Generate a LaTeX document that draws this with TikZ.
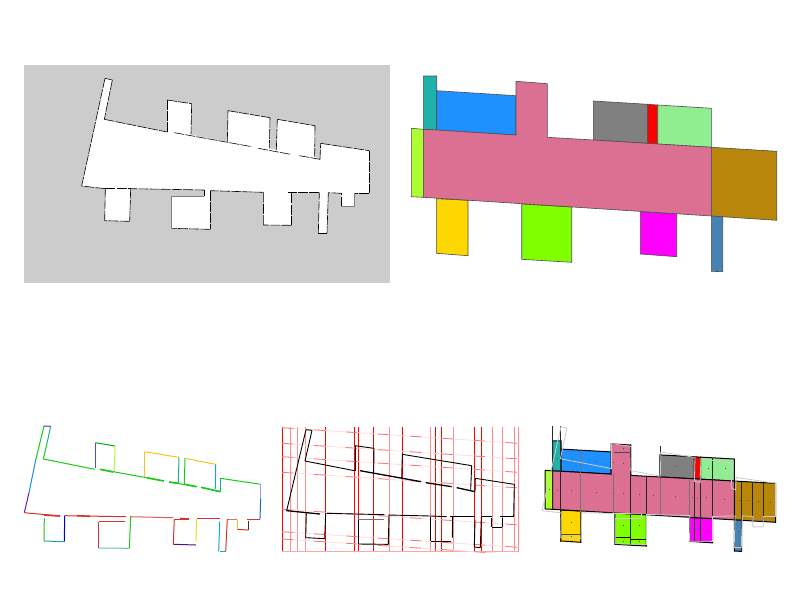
\documentclass[tikz,border=0pt]{standalone}
\definecolor{blockteal}{RGB}{32,178,170}
\definecolor{blockblue}{RGB}{30,144,255}
\definecolor{blockpink}{RGB}{219,112,147}
\definecolor{blocklime}{RGB}{173,255,47}
\definecolor{blockgray}{RGB}{128,128,128}
\definecolor{blockred}{RGB}{255,0,0}
\definecolor{blockmint}{RGB}{144,238,144}
\definecolor{blockgold}{RGB}{184,134,11}
\definecolor{blocksteel}{RGB}{70,130,180}
\definecolor{blockyellow}{RGB}{255,215,0}
\definecolor{blockchart}{RGB}{127,255,0}
\definecolor{blockmagenta}{RGB}{255,0,255}
\definecolor{edgepurple}{RGB}{100,30,170}
\definecolor{edgeblue}{RGB}{30,140,225}
\definecolor{edgegreen}{RGB}{20,205,20}
\definecolor{edgeteal}{RGB}{30,170,150}
\definecolor{edgeorange}{RGB}{250,195,30}
\definecolor{edgered}{RGB}{215,50,50}
\definecolor{edgecyan}{RGB}{20,165,205}
\tikzset{
    planedge/.style={draw=black,line width=.6pt,dash pattern=on 10pt off 1.2pt},
    blockedge/.style={draw=black!70,line width=.6pt},
    blockcut/.style={draw=black,line width=1pt},
    griddark/.style={draw=black!85,line width=1pt},
    gridfaint/.style={draw=black!55,line width=.7pt}
}
% outline of the plan, in the coordinates of the top left panel
\newcommand{\planoutline}{(105,78.3) -- (112.3,80) -- (104.3,119.3) -- (167,132) -- (167,100) -- (191.7,103.7) -- (191,134.7) -- (227.3,141.7) -- (228,110.7) -- (270,117.7) -- (269.3,148.3) -- (276.3,150) -- (277.3,119.3) -- (315,125.7) -- (314.7,156.7) -- (320,159.3) -- (320.7,143.3) -- (369.3,150.7) -- (369.3,193.3) -- (354,193.3) -- (354,206.7) -- (341.3,206.7) -- (341.3,193.3) -- (328.3,192.7) -- (327,233.3) -- (318.3,233.3) -- (319.3,192.7) -- (291.7,193.3) -- (291.7,225.3) -- (263.3,225) -- (263.7,192.3) -- (210.3,190.7) -- (210.3,229.3) -- (171.7,228.3) -- (171.7,196) -- (204.3,196) -- (204.3,190) -- (130.7,188.7) -- (129.7,221.3) -- (104.7,220.7) -- (105.3,188.7) -- (81.7,186) -- cycle}
% coloured blocks, in the coordinates of the top right panel
\newcommand{\drawblocks}[1]{
    \foreach \c/\p in {
        blockteal/{(423.3,76) -- (436.7,76) -- (436.7,130) -- (423.3,129.3)},
        blockblue/{(436.7,90.7) -- (516,95.7) -- (516,135) -- (436.7,130)},
        blocklime/{(411.3,128.3) -- (423.3,129.3) -- (423.3,197.3) -- (411.3,196.7)},
        blockgray/{(593.3,101) -- (647.7,104.3) -- (647.7,143.3) -- (593.3,140)},
        blockred/{(647.7,104.3) -- (657.7,105) -- (657.7,144) -- (647.7,143.3)},
        blockmint/{(657.7,105) -- (711.3,108.3) -- (711.3,147.3) -- (657.7,144)},
        blockgold/{(711.3,147.3) -- (776.7,151.3) -- (776.7,220.3) -- (711.3,216)},
        blocksteel/{(711.3,216) -- (722.7,216.7) -- (722.7,271.7) -- (711.3,271.3)},
        blockyellow/{(436.3,198.7) -- (468,200.3) -- (468,255.7) -- (436.3,253.3)},
        blockchart/{(521.7,204) -- (571.7,207) -- (571.7,262.3) -- (521.7,259.3)},
        blockmagenta/{(640.3,211.7) -- (676.7,213.7) -- (676.7,256.7) -- (640.3,254)},
        blockpink/{(423.3,129.3) -- (436.7,130) -- (516,135) -- (516,81.3) -- (547.3,83.7) -- (547.3,137.3) -- (593.3,140) -- (711.3,147.3) -- (711.3,216) -- (423.3,197.3)}}
        \filldraw[fill=\c,#1] \p -- cycle;
}
\begin{document}
\begin{tikzpicture}[x=1pt,y=-1pt]
    \useasboundingbox (0,0) rectangle (800,600);
    % top left: white plan on gray
    \fill[black!20] (24,65) rectangle (390,283);
    \fill[white] \planoutline;
    \begin{scope}[shift={(20,60)},scale=1/3]
        \foreach \xa/\ya/\xb/\yb in {255/55/277/60,277/60/253/178,255/55/185/378,253/178/441/216,441/216/441/120,
            441/120/515/131,515/131/513/222,463/218/695/260,622/245/624/152,624/152/750/173,750/173/748/265,
            715/265/812/283,769/270/772/178,772/178/885/197,885/197/884/290,838/287/900/298,900/298/902/250,
            902/250/1048/272,1048/272/1048/400,1048/400/1002/400,964/440/964/400,964/400/925/398,925/398/921/520,
            921/520/895/520,895/520/898/398,898/398/805/398,815/400/815/496,815/496/730/495,730/495/731/397,
            731/397/571/392,571/392/571/508,571/508/455/505,553/408/553/390,553/390/332/386,332/386/329/484,
            329/484/254/482,254/482/256/386,256/386/332/386,256/386/185/378}
            \draw[planedge] (\xa,\ya) -- (\xb,\yb);
        \draw[black!50,line width=.6pt] (1002,400) -- (1002,440) -- (964,440) (455,505) -- (455,408) -- (553,408);
    \end{scope}
    % top right: blocks
    \drawblocks{blockedge}
    % bottom left: edges by direction
    \foreach \xa/\ya/\xb/\yb/\c in {
        24.3/512.7/29/492.7/edgepurple, 29/492.7/35.7/460/edgeblue, 35.7/460/44/426/edgegreen,
        44/426/50.7/426.3/edgepurple, 50.7/426.3/47/443.3/edgeteal, 47/443.3/43.3/459/edgegreen,
        43.3/459/95/469.3/edgegreen, 95.3/468.3/95.3/442.7/blue!70!white, 95.3/442.7/115/446/edgegreen!80!black,
        115/446/114.3/472.3/blocklime, 100/469.3/144.3/477.3/edgegreen, 144.3/477.3/144.3/451.7/edgeorange,
        144.3/451.7/179/457.3/edgeorange, 179/457.3/178.3/483.3/edgeteal, 144.3/477.3/163.7/481/edgegreen,
        169/482/196.7/486.7/edgegreen, 185/458.3/184.3/484/edgegreen, 185/458.3/215.7/464.3/edgeorange,
        215.7/464.3/215.3/489/edgecyan, 201/487.3/220.3/491.7/edgegreen, 220.3/491.7/220.3/478.3/edgeteal,
        220.3/478.3/260.7/484.3/edgegreen, 260.7/484.3/260.7/498.3/blue!40!white, 260.7/498.3/260/519/edgeblue!80!black,
        260/519/246.7/519/edgered, 248.3/521/248.3/530/black!80, 248.3/530/237.3/529.3/edgered,
        237.3/529.3/237.3/520/edgeorange, 237.3/519/227.3/519/edgered!70!white, 227.3/519/225.7/551.3/edgered,
        225.7/551.3/220/551.3/edgeteal, 218.7/551.3/219.7/521.7/edgecyan, 220/518.3/196.7/518.3/edgered,
        196.7/519/196/541/yellow!90!black, 196/545/173.3/544.3/edgepurple!70!black, 173.3/544.3/174.3/519/edgered,
        174.3/519/189/519/edgered, 130/516.7/173.3/517.7/edgered!80!white, 130.7/516.7/129.3/548.3/edgegreen,
        129.3/548.3/99/548/edgeteal!70!white, 98.7/548/98.7/521.7/edgered, 98.7/521.7/125/521.7/edgered,
        65/515.7/126/516.7/edgered, 64.7/515.7/64.3/541.7/blue!80!black, 64.3/541.7/44/541/edgeteal,
        44/541/44.3/518.3/edgegreen, 24.3/512.7/60/516/edgered}
        \draw[\c,line width=1pt] (\xa,\ya) -- (\xb,\yb);
    \foreach \xa/\ya/\xb/\yb/\c in {100/469.3/113/472/edgegreen, 147/477.8/163.7/481/edgegreen, 169/482/178/483.3/edgegreen,
        185/484.3/196.7/486.7/edgegreen, 201/487.3/220.3/491.7/edgegreen, 44/515/60/516/edgered,
        77/515.7/90/516.3/edgered, 180/518.5/189/519/edgered}
        \draw[\c,line width=1.6pt] (\xa,\ya) -- (\xb,\yb);
    % bottom middle: grid lines and plan
    \foreach \x in {282.3,325.3,354.3,358.3,373.3,402.3,435.3,441.3,474.3,481.3}
        \draw[red,line width=.7pt] (\x,426.7) -- (\x,551.7);
    \foreach \x in {290.3,297.7,305.7,389.3,430.7,453.3,492,502.3,514,518.3}
        \draw[red!45,line width=.7pt] (\x,426.7) -- (\x,551.7);
    \draw[red!35,line width=.7pt] (282.3,551.7) -- (518.3,551.7);
    \begin{scope}
        \clip (282.3,426.7) rectangle (518.3,552);
        \foreach \y in {427.7,443.3,456.7,472.3,509.3,531.7,539}
        {
            \draw[red!15,line width=.7pt] (282.3,\y) -- (518.3,\y+15.6);
            \draw[red!55,line width=.8pt,dash pattern=on 11pt off 21pt] (282.3,\y) -- (518.3,\y+15.6);
        }
    \end{scope}
    \begin{scope}[shift={(275,415)},scale=1/3]
        \foreach \xa/\ya/\xb/\yb in {93/44/111/46,111/46/90/138,93/44/35/287,90/138/238/167,240/92/297/100,240/92/240/167,
            297/100/296/172,382/118/590/152,382/118/380/190,590/152/587/224,600/230/601/190,601/190/718/208,
            718/208/716/305,716/305/675/305,682/308/682/336,682/336/650/336,650/336/650/308,650/305/622/305,
            619/305/616/398,616/398/598/396,598/396/600/315,600/305/525/305,533/305/532/368,528/378/467/378,
            467/378/467/305,467/303/515/305,340/300/467/303,342/300/340/388,340/388/250/387,250/387/250/312,
            155/295/328/299,152/295/149/371,149/371/92/368,92/368/94/295}
            \draw[black,line width=.9pt] (\xa,\ya) -- (\xb,\yb);
        \foreach \xa/\ya/\xb/\yb in {255/167/438/200,452/203/530/215,545/218/600/230,35/287/135/297}
            \draw[black,line width=1.3pt] (\xa,\ya) -- (\xb,\yb);
        \draw[black!55,line width=.8pt] (250,312) -- (327,312);
    \end{scope}
    % bottom right: blocks cut by the grid, with the plan on top
    \begin{scope}[shift={(552.7,509.3)},xscale=.631,yscale=.565,shift={(-423.3,-197.3)}]
        \drawblocks{blockcut}
    \end{scope}
    \foreach \x/\ya/\yb in {552.7/426/509.3,560.7/426/541.7,630.7/444.3/545,646/476.7/515,660.3/446/478,694.3/456.7/541.7,
        700.3/456.7/541.7,712.3/458.3/520,741.7/481.7/551.7,752.3/483.3/521.7,763.7/483.3/521.7}
        \draw[griddark] (\x,\ya) -- (\x,\yb);
    \foreach \x/\ya/\yb in {580/450/511.7,613.7/474/513,660.3/478/515,689.3/480/516.7}
        \draw[gridfaint] (\x,\ya) -- (\x,\yb);
    \draw[black,line width=.8pt] (615,537.7) -- (630.7,537.7) (630.7,539) -- (646,539);
    \draw[black!70,line width=.8pt] (561,534.3) -- (580,534.3) (614,452) -- (630.7,452);
    \foreach \x/\y in {68/130,67/225,43/222,108/133,184/138,109/226,184/232,236/234,265/99,265/144,235/142,
        265/235,312/237,355/240,421/244,423/153,473/155,473/246,488/250,515/248,520/160,570/160,568/252,
        612/255,638/256,670/258,706/262,612/348,612/393,266/330,314/332,266/378,314/378,108/322,108/365,
        490/340,518/343,465/340}
        \fill[black!70] (535+\x/3-.5,415+\y/3-.5) rectangle +(1,1);
    \begin{scope}[shift={(561,426.7)},xscale=.812,yscale=.78,shift={(-105,-78.3)}]
        \draw[black!20,line width=.8pt] \planoutline;
    \end{scope}
\end{tikzpicture}
\end{document}
